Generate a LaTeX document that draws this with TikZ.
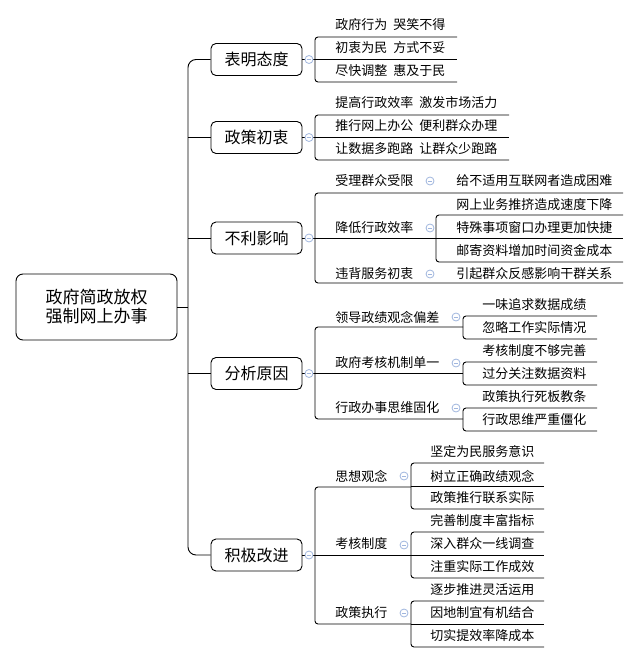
\documentclass[tikz,border=0pt]{standalone}
\usepackage{fontspec}
\newfontfamily\cjk{Noto Sans CJK SC}
\definecolor{togblue}{RGB}{160,182,222}
\begin{document}
\begin{tikzpicture}[x=1pt,y=-1pt,line width=0.9pt,
  box/.style={draw,rounded corners=5pt,minimum width=91pt,minimum height=32pt,inner sep=0pt,font=\cjk\fontsize{16}{18}\selectfont},
  lbl/.style={anchor=west,inner sep=0pt,font=\cjk\fontsize{13}{15}\selectfont},
  tog/.style={circle,draw=togblue,fill=white,line width=0.8pt,minimum size=8pt,inner sep=0pt,
    path picture={\draw[togblue,line width=0.8pt] ([xshift=-2.2pt]path picture bounding box.center) -- ([xshift=2.2pt]path picture bounding box.center);}},
  ln/.style={rounded corners=3pt}]
\useasboundingbox (0,0) rectangle (639,663);

% root and branches
\node[box,minimum width=161pt,minimum height=66pt,rounded corners=7pt,align=center,font=\cjk\fontsize{17}{19}\selectfont] (root) at (96.5,307) {政府简政放权\\强制网上办事};
\node[box] (b1) at (256.5,59.5) {表明态度};
\node[box] (b2) at (256.5,137.5) {政策初衷};
\node[box] (b3) at (256.5,238) {不利影响};
\node[box] (b4) at (256.5,373.5) {分析原因};
\node[box] (b5) at (256.5,555) {积极改进};
\coordinate (tTop) at (188,59.5);
\coordinate (tBot) at (188,555);
\draw[rounded corners=8pt] (b1.west) -- (tTop) -- (tBot) -- (b5.west);
\draw (root.east) -- (188,307);
\draw (188,137.5) -- (b2.west);
\draw (188,238) -- (b3.west);
\draw (188,373.5) -- (b4.west);

% branch 1
\draw (b1.east) -- (315,59.5);
\draw[ln] (457,37) -- (315,37) -- (315,82) -- (457,82);
\draw (315,59.5) -- (457,59.5);
\node[lbl] (l11) at (335,25) {政府行为\hspace{6pt}哭笑不得};
\node[lbl] (l12) at (335,48) {初衷为民\hspace{6pt}方式不妥};
\node[lbl] (l13) at (335,71) {尽快调整\hspace{6pt}惠及于民};
\node[tog] (c1) at (309,59.5) {};

% branch 2
\draw (b2.east) -- (315,137.5);
\draw[ln] (509,115) -- (315,115) -- (315,160) -- (509,160);
\draw (315,137.5) -- (509,137.5);
\node[lbl] (l21) at (335,103) {提高行政效率\hspace{6pt}激发市场活力};
\node[lbl] (l22) at (335,126) {推行网上办公\hspace{6pt}便利群众办理};
\node[lbl] (l23) at (335,149) {让数据多跑路\hspace{6pt}让群众少跑路};
\node[tog] (c2) at (309,137.5) {};

% branch 3
\draw (b3.east) -- (315,238);
\draw[ln] (623,193) -- (315,193) -- (315,283) -- (623,283);
\draw (315,238) -- (623,238);
\draw[ln] (623,215) -- (436,215) -- (436,262) -- (623,262);
\node[lbl] (l31) at (335,181) {受理群众受限};
\node[lbl] (l311) at (456,181) {给不适用互联网者造成困难};
\node[lbl] (l32) at (335,228) {降低行政效率};
\node[lbl] (l321) at (456,205) {网上业务推挤造成速度下降};
\node[lbl] (l322) at (456,228) {特殊事项窗口办理更加快捷};
\node[lbl] (l323) at (456,251) {邮寄资料增加时间资金成本};
\node[lbl] (l33) at (335,274) {违背服务初衷};
\node[lbl] (l331) at (456,274) {引起群众反感影响干群关系};
\node[tog] (c3) at (309,238) {};
\node[tog] at (430,181) {};
\node[tog] at (430,228) {};
\node[tog] at (430,274) {};

% branch 4
\draw (b4.east) -- (315,373.5);
\draw[ln] (463,327) -- (315,327) -- (315,419) -- (463,419);
\draw (315,373.5) -- (463,373.5);
\draw[ln] (597,316) -- (463,316) -- (463,339) -- (597,339);
\draw[ln] (597,362) -- (463,362) -- (463,385) -- (597,385);
\draw[ln] (597,408) -- (463,408) -- (463,431) -- (597,431);
\node[lbl] (l41) at (335,317) {领导政绩观念偏差};
\node[lbl] (l411) at (482,305) {一味追求数据成绩};
\node[lbl] (l412) at (482,328) {忽略工作实际情况};
\node[lbl] (l42) at (335,363) {政府考核机制单一};
\node[lbl] (l421) at (482,351) {考核制度不够完善};
\node[lbl] (l422) at (482,374) {过分关注数据资料};
\node[lbl] (l43) at (335,408) {行政办事思维固化};
\node[lbl] (l431) at (482,397) {政策执行死板教条};
\node[lbl] (l432) at (482,420) {行政思维严重僵化};
\node[tog] (c4) at (309,373.5) {};
\node[tog] at (456,317) {};
\node[tog] at (456,363) {};
\node[tog] at (456,408) {};

% branch 5
\draw (b5.east) -- (315,555);
\draw[ln] (411,487) -- (315,487) -- (315,624) -- (411,624);
\draw (315,555) -- (411,555);
\draw[ln] (544,463) -- (411,463) -- (411,509) -- (544,509);
\draw (411,486) -- (544,486);
\draw[ln] (544,532) -- (411,532) -- (411,578) -- (544,578);
\draw (411,555) -- (544,555);
\draw[ln] (544,601) -- (411,601) -- (411,647) -- (544,647);
\draw (411,624) -- (544,624);
\node[lbl] (l51) at (335,476) {思想观念};
\node[lbl] (l511) at (430,452) {坚定为民服务意识};
\node[lbl] (l512) at (430,476) {树立正确政绩观念};
\node[lbl] (l513) at (430,498) {政策推行联系实际};
\node[lbl] (l52) at (335,544) {考核制度};
\node[lbl] (l521) at (430,521) {完善制度丰富指标};
\node[lbl] (l522) at (430,544) {深入群众一线调查};
\node[lbl] (l523) at (430,567) {注重实际工作成效};
\node[lbl] (l53) at (335,613) {政策执行};
\node[lbl] (l531) at (430,590) {逐步推进灵活运用};
\node[lbl] (l532) at (430,613) {因地制宜有机结合};
\node[lbl] (l533) at (430,636) {切实提效率降成本};
\node[tog] (c5) at (309,555) {};
\node[tog] at (404,476) {};
\node[tog] at (404,545) {};
\node[tog] at (404,613) {};
\end{tikzpicture}
\end{document}
